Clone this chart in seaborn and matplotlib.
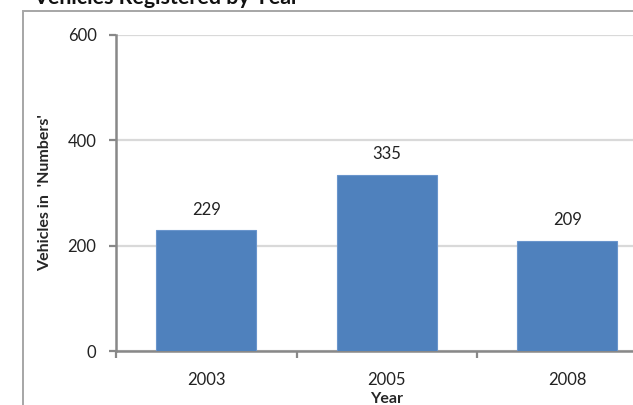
import matplotlib
matplotlib.use("Agg")
import matplotlib.pyplot as plt
import matplotlib.patches as mpatches
import pandas as pd
import seaborn as sns

# data
years = ["2003", "2005", "2008"]
vehicles = [229, 335, 209]
y_ticks = [0, 200, 400, 600]

df = pd.DataFrame({"Year": years, "Vehicles": vehicles})

sns.set_style("white")
plt.rcParams["font.family"] = ["Lato", "DejaVu Sans"]

fig = plt.figure(figsize=(6.33, 4.05), dpi=100)
# plot area runs past the right edge, like the cropped source
ax = fig.add_axes([116 / 633, 54 / 405, 541.5 / 633, 316 / 405])

sns.barplot(data=df, x="Year", y="Vehicles", color="#4f81bd", width=0.554,
            edgecolor="#6a95cc", linewidth=0.8, saturation=1, ax=ax, zorder=3)

ax.set_ylim(0, 600)
ax.set_xlim(-0.5, 2.5)
ax.set_yticks(y_ticks)
ax.set_yticklabels([str(v) for v in y_ticks], fontsize=12, color="#222222")
ax.grid(axis="y", color="#d9d9d9", linewidth=1.6, zorder=0)
ax.set_axisbelow(True)

# category boundary ticks (major) and centred labels (minor)
ax.set_xticks([-0.5, 0.5, 1.5])
ax.set_xticklabels([])
ax.set_xticks([0, 1, 2], minor=True)
ax.set_xticklabels(years, minor=True, fontsize=12, color="#222222")
ax.tick_params(axis="x", which="major", direction="out", length=5, width=1.6,
               color="#888888", bottom=True)
ax.tick_params(axis="x", which="minor", length=0, pad=15)
ax.tick_params(axis="y", direction="out", length=5, width=1.6, color="#888888",
               left=True, pad=9)

for side in ["top", "right"]:
    ax.spines[side].set_visible(False)
for side in ["left", "bottom"]:
    ax.spines[side].set_color("#888888")
    ax.spines[side].set_linewidth(1.8)

ax.bar_label(ax.containers[0], fmt="%d", padding=9, fontsize=12, color="#222222")

ax.set_xlabel("Year", fontsize=11.5, fontweight="bold", labelpad=3)
ax.set_ylabel("Vehicles in  'Numbers'", fontsize=11.5, fontweight="bold", labelpad=11)

# outer chart frame, cut off at the right and bottom
frame = mpatches.Rectangle((23 / 633, -0.2), 2, 1.2 - 11 / 405, transform=fig.transFigure,
                           fill=False, edgecolor="#a6a6a6", linewidth=1.4)
fig.patches.append(frame)

fig.text(33 / 633, 1 - 4 / 405, "Vehicles Registered by Year", fontsize=15.4,
         fontweight="bold", ha="left", va="baseline", color="#111111")

plt.savefig("out.png", dpi=100)
